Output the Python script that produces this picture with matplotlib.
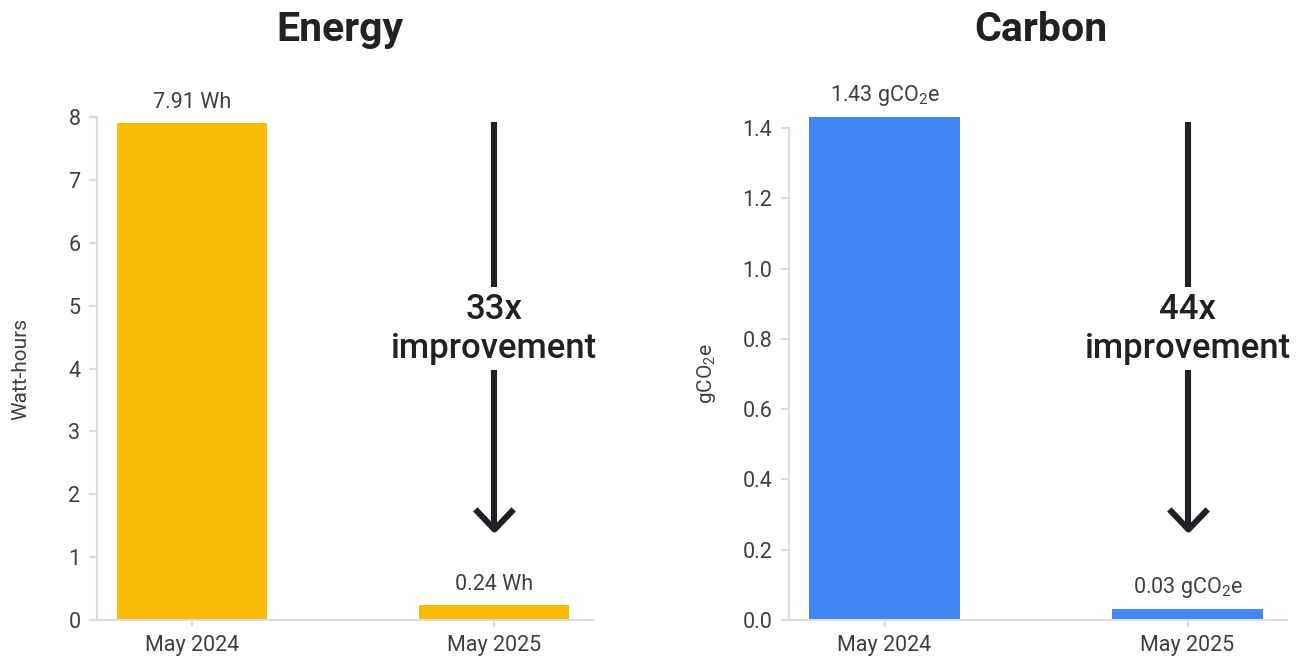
import matplotlib
matplotlib.use("Agg")
import matplotlib.pyplot as plt
from matplotlib.markers import MarkerStyle
from matplotlib.ticker import FormatStrFormatter
import matplotlib.transforms as mtransforms

plt.rcParams['font.family'] = ['Roboto', 'DejaVu Sans']
plt.rcParams['mathtext.default'] = 'regular'

# Data
periods = ["May 2024", "May 2025"]
energy_wh = [7.91, 0.24]
carbon_g = [1.43, 0.03]
energy_labels = ["7.91 Wh", "0.24 Wh"]
carbon_labels = ["1.43 gCO$_2$e", "0.03 gCO$_2$e"]
energy_ticks = [0, 1, 2, 3, 4, 5, 6, 7, 8]
carbon_ticks = [0.0, 0.2, 0.4, 0.6, 0.8, 1.0, 1.2, 1.4]
improvements = ["33x", "44x"]

YELLOW = "#FBBC04"
BLUE = "#4285F4"
TEXT = "#3c4043"
AXIS = "#dadce0"
DARK = "#202124"

fig = plt.figure(figsize=(13.01, 6.6), dpi=100)
ax_e = fig.add_axes([0.0746, 0.0606, 0.3812, 0.7621])
ax_c = fig.add_axes([0.6065, 0.0606, 0.3827, 0.7455])

panels = [
    (ax_e, energy_wh, energy_labels, energy_ticks, "Energy", "Watt-hours", YELLOW, improvements[0], "%d", 27, -0.004),
    (ax_c, carbon_g, carbon_labels, carbon_ticks, "Carbon", "gCO$_2$e", BLUE, improvements[1], "%.1f", 18, 0.002),
]

for ax, vals, labels, ticks, title, ylabel, color, imp, fmt, lpad, tdx in panels:
    x = list(range(len(periods)))
    bars = ax.bar(x, vals, width=0.497, color=color, clip_on=False, zorder=2)
    ax.set_xlim(-0.315, 1.328)
    ax.set_ylim(ticks[0], ticks[-1])
    ax.set_yticks(ticks)
    ax.yaxis.set_major_formatter(FormatStrFormatter(fmt))
    ax.set_xticks(x)
    ax.set_xticklabels(periods)
    for side in ("top", "right"):
        ax.spines[side].set_visible(False)
    for side in ("left", "bottom"):
        ax.spines[side].set_color(AXIS)
        ax.spines[side].set_linewidth(1.5)
    ax.tick_params(axis="y", length=6, width=1.5, color=AXIS, labelcolor=TEXT,
                   labelsize=15.5, pad=6)
    ax.tick_params(axis="x", length=5, width=1.5, color=AXIS, labelcolor=TEXT,
                   labelsize=15.5, pad=6)
    ax.set_ylabel(ylabel, fontsize=15, color=TEXT, labelpad=lpad)

    # Panel title, centred over the axes
    pos = ax.get_position()
    fig.text((pos.x0 + pos.x1) / 2 + tdx, 0.955, title, ha="center", va="center",
             fontsize=29.5, fontweight="bold", color=DARK)

    for rect, lab in zip(bars, labels):
        ax.annotate(lab, (rect.get_x() + rect.get_width() / 2, rect.get_height()),
                    xytext=(0, 7), textcoords="offset points",
                    ha="center", va="bottom", fontsize=15.5, color=TEXT,
                    annotation_clip=False)

    # Improvement arrow above the second bar
    trans = mtransforms.blended_transform_factory(ax.transData, fig.transFigure)
    xc = x[1]
    ax.plot([xc, xc], [0.8152, 0.5652], transform=trans, color=DARK, lw=4.4,
            solid_capstyle="butt", clip_on=False)
    ax.plot([xc, xc], [0.4394, 0.1970], transform=trans, color=DARK, lw=4.4,
            solid_capstyle="butt", clip_on=False)
    chevron = MarkerStyle([(-1, 1.05), (0, 0), (1, 1.05)], joinstyle="miter", capstyle="butt")
    ax.plot([xc], [0.1990], transform=trans, marker=chevron, markersize=29,
            markerfacecolor="none", markeredgecolor=DARK, markeredgewidth=4.4,
            linestyle="none", clip_on=False)
    ax.text(xc, 0.5015, f"{imp}\nimprovement", transform=trans, ha="center",
            va="center", fontsize=25, fontweight="medium", color=DARK,
            linespacing=1.2)

fig.savefig("out.png", dpi=100)
